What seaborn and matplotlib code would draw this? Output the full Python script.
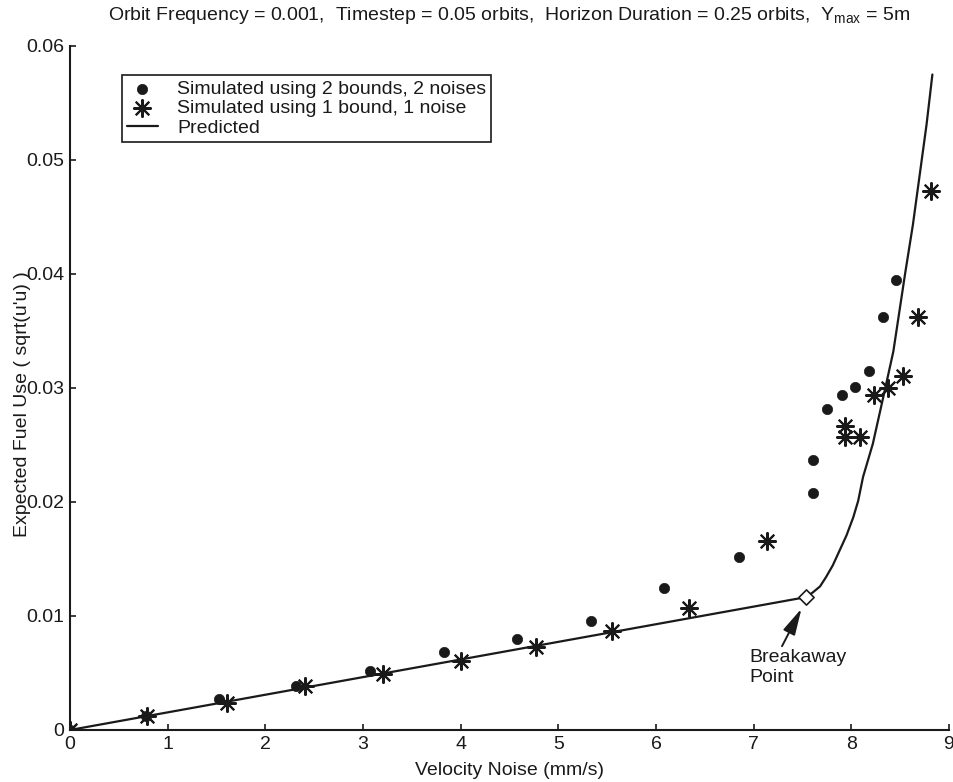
import matplotlib
matplotlib.use("Agg")
import matplotlib.pyplot as plt
import numpy as np
import pandas as pd
import seaborn as sns

# Simulated fuel use, 2 bounds / 2 noises
dot_x = [0, 0.78, 1.53, 2.31, 3.07, 3.83, 4.58, 5.33, 6.08, 6.85,
         7.61, 7.61, 7.75, 7.90, 8.04, 8.18, 8.32, 8.46]
dot_y = [0, 0.00126, 0.00271, 0.00388, 0.00515, 0.00682, 0.00794, 0.0096,
         0.01248, 0.01514, 0.02078, 0.02365, 0.02812, 0.02937, 0.03010,
         0.03150, 0.03622, 0.03943]

# Simulated fuel use, 1 bound / 1 noise
star_x = [0, 0.79, 1.61, 2.41, 3.20, 4.00, 4.77, 5.55, 6.34, 7.14,
          7.94, 7.94, 8.09, 8.23, 8.38, 8.53, 8.68, 8.82]
star_y = [0, 0.00126, 0.00241, 0.00382, 0.00494, 0.00609, 0.00729, 0.00866,
          0.0107, 0.01654, 0.02572, 0.02663, 0.02566, 0.02940, 0.03004,
          0.03103, 0.03625, 0.04724]

# Predicted fuel use curve
pred_x = [0, 7.54, 7.61, 7.68, 7.74, 7.81, 7.88, 7.95, 8.02, 8.07,
          8.12, 8.22, 8.34, 8.43, 8.55, 8.63, 8.70, 8.77, 8.83]
pred_y = [0, 0.01166, 0.0121, 0.0126, 0.0134, 0.01444, 0.01575, 0.01706,
          0.01866, 0.0201, 0.0222, 0.0251, 0.0297, 0.0332, 0.0400,
          0.0443, 0.0487, 0.0531, 0.0575]

# Breakaway point
brk_x = [7.54]
brk_y = [0.01166]

x_ticks = [0, 1, 2, 3, 4, 5, 6, 7, 8, 9]
y_ticks = [0, 0.01, 0.02, 0.03, 0.04, 0.05, 0.06]
y_tick_labels = ["0", "0.01", "0.02", "0.03", "0.04", "0.05", "0.06"]

sns.set_theme(style="ticks")
plt.rcParams["font.family"] = ["Liberation Sans", "DejaVu Sans"]
plt.rcParams["mathtext.fontset"] = "custom"
plt.rcParams["mathtext.rm"] = "Liberation Sans"
plt.rcParams["text.color"] = "k"
FS = 14

fig = plt.figure(figsize=(9.54, 7.82), dpi=100)
ax = fig.add_axes([70 / 954, 52 / 782, 879 / 954, 684 / 782])

dots = pd.DataFrame({"x": dot_x, "y": dot_y})
stars = pd.DataFrame({"x": star_x, "y": star_y})
pred = pd.DataFrame({"x": pred_x, "y": pred_y})

sns.scatterplot(data=dots, x="x", y="y", ax=ax, marker="o", s=55,
                color="k", edgecolor="k", linewidth=0.5,
                label="Simulated using 2 bounds, 2 noises", zorder=3)
sns.scatterplot(data=stars, x="x", y="y", ax=ax, marker=(8, 2, 0), s=150,
                color="k", linewidth=1.5,
                label="Simulated using 1 bound, 1 noise", zorder=3)
sns.lineplot(data=pred, x="x", y="y", ax=ax, sort=False, estimator=None,
             color="k", linewidth=1.6, label="Predicted", zorder=2)
sns.scatterplot(x=brk_x, y=brk_y, ax=ax, marker="D", s=60,
                facecolor="white", edgecolor="k", linewidth=1.2, zorder=4)

# Breakaway annotation
ax.annotate("", xy=(7.49, 0.01065), xytext=(7.29, 0.00735),
            arrowprops=dict(arrowstyle="-|>,head_length=0.9,head_width=0.22",
                            color="k", lw=1.4, mutation_scale=18,
                            shrinkA=0, shrinkB=0))
ax.text(6.96, 0.0071, "Breakaway\nPoint", ha="left", va="top",
        fontsize=FS, linespacing=1.2)

ax.set_xlim(0, 9)
ax.set_ylim(0, 0.06)
ax.set_xticks(x_ticks)
ax.set_xticklabels([str(t) for t in x_ticks])
ax.set_yticks(y_ticks)
ax.set_yticklabels(y_tick_labels)
ax.tick_params(direction="in", length=4, width=1.2, labelsize=FS,
               colors="k", pad=4)
for side in ["top", "right"]:
    ax.spines[side].set_visible(False)
for side in ["left", "bottom"]:
    ax.spines[side].set_color("k")
    ax.spines[side].set_linewidth(1.5)

ax.set_xlabel("Velocity Noise (mm/s)", fontsize=FS, labelpad=7, color="k")
ax.set_ylabel("Expected Fuel Use ( sqrt(u'u) )", fontsize=FS, color="k")
ax.yaxis.set_label_coords(-0.044, 0.476)

ax.set_title(r"Orbit Frequency = 0.001,  Timestep = 0.05 orbits,  "
             r"Horizon Duration = 0.25 orbits,  $\mathregular{Y_{max}}$ = 5m",
             fontsize=FS, pad=19, color="k")

handles, labels = ax.get_legend_handles_labels()
leg = ax.legend(handles[:3], labels[:3], loc="upper left",
                bbox_to_anchor=(0.0588, 0.957), borderaxespad=0,
                fontsize=FS, frameon=True, fancybox=False, framealpha=1,
                edgecolor="k", labelspacing=0.1, handlelength=1.6,
                handletextpad=1.0, borderpad=0.25, scatterpoints=1)
leg.get_frame().set_linewidth(1.2)

fig.savefig("out.png", dpi=100)
